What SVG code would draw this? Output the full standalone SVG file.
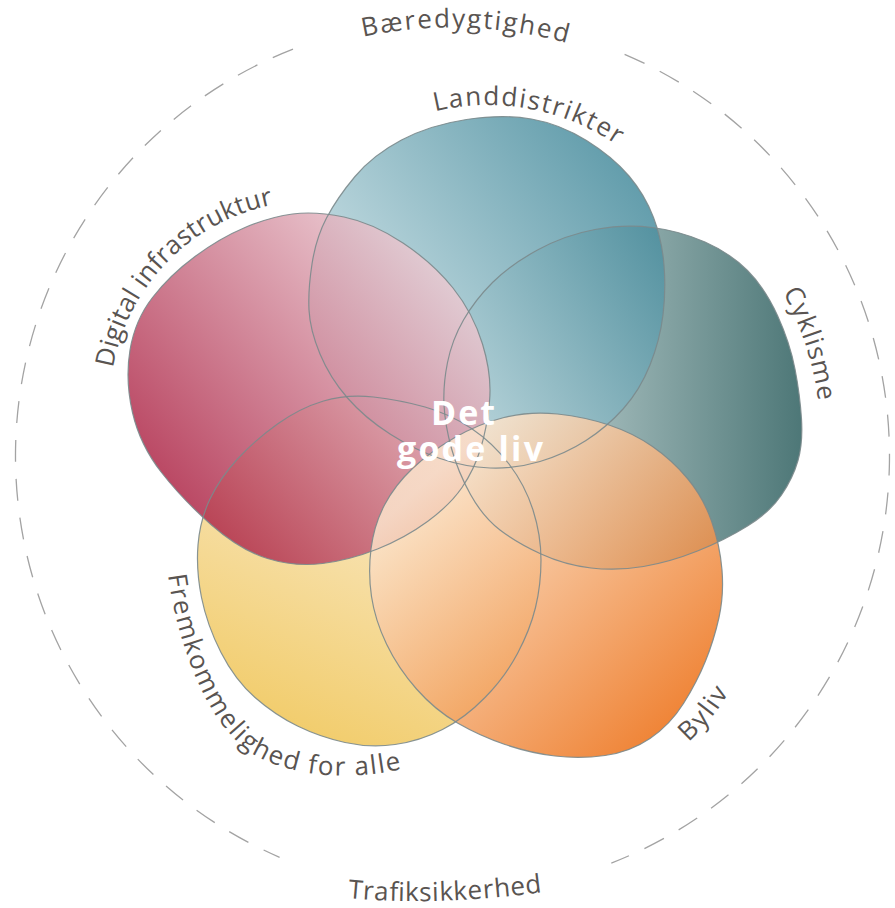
<svg xmlns="http://www.w3.org/2000/svg" width="895" height="908" viewBox="0 0 895 908">
<defs>
<style>
.lbl{font-family:"Open Sans","Liberation Sans",sans-serif;font-size:26px;fill:#595451}
.ctr{font-family:"Open Sans","Liberation Sans",sans-serif;font-size:34px;font-weight:700;fill:#ffffff;text-anchor:middle}
.blob{fill-opacity:0.85}
.outline{fill:none;stroke:#7b898c;stroke-width:1.2;stroke-opacity:0.9}
.ring{fill:none;stroke:#a3a3a3;stroke-width:1.3;stroke-dasharray:22 17}
</style>
<linearGradient id="g-crimson" gradientUnits="userSpaceOnUse" x1="460" y1="255" x2="150" y2="520"><stop offset="0" stop-color="#efd6dc"/><stop offset="1" stop-color="#a8173a"/></linearGradient>
<linearGradient id="g-blue" gradientUnits="userSpaceOnUse" x1="340" y1="420" x2="660" y2="170"><stop offset="0" stop-color="#d6e8ec"/><stop offset="1" stop-color="#3e8698"/></linearGradient>
<linearGradient id="g-cyan" gradientUnits="userSpaceOnUse" x1="460" y1="400" x2="800" y2="400"><stop offset="0" stop-color="#cfdfdf"/><stop offset="1" stop-color="#2f6060"/></linearGradient>
<linearGradient id="g-orange" gradientUnits="userSpaceOnUse" x1="460" y1="450" x2="720" y2="730"><stop offset="0" stop-color="#fbe4cc"/><stop offset="1" stop-color="#eb6200"/></linearGradient>
<linearGradient id="g-yellow" gradientUnits="userSpaceOnUse" x1="440" y1="430" x2="300" y2="740"><stop offset="0" stop-color="#faebcf"/><stop offset="1" stop-color="#efc350"/></linearGradient>
<path id="s-crimson" d="M 292.5 214 Q 315 211 344 217 Q 373 223 403 243 Q 433 263 453 288 Q 473 313 482.5 344 Q 492 375 489.5 401.5 Q 487 428 480.5 449 Q 474 470 462 487.5 Q 450 505 427.5 521.5 Q 405 538 377.5 549 Q 350 560 322.5 563.5 Q 295 567 267.5 558.5 Q 240 550 211.5 525 Q 183 500 161.5 472.5 Q 140 445 132.5 412.5 Q 125 380 130 350 Q 135 320 152.5 297.5 Q 170 275 195 256.5 Q 220 238 245 227.5 Q 270 217 292.5 214 Z"/>
<path id="s-blue" d="M 466.5 119.5 Q 503 114 531.5 119 Q 560 124 586.5 140.5 Q 613 157 629 176 Q 645 195 653.5 217.5 Q 662 240 664 265 Q 666 290 663 315 Q 660 340 650 365 Q 640 390 623.5 408.5 Q 607 427 586 440.5 Q 565 454 540 461.5 Q 515 469 490 468 Q 465 467 440 458.5 Q 415 450 390 434 Q 365 418 347.5 398 Q 330 378 320 354 Q 310 330 309 310 Q 308 290 312 264 Q 316 238 326.5 218 Q 337 198 355 176.5 Q 373 155 401.5 140 Q 430 125 466.5 119.5 Z"/>
<path id="s-cyan" d="M 595 229.5 Q 625 224 652.5 227.5 Q 680 231 705 242 Q 730 253 747.5 270.5 Q 765 288 777.5 315.5 Q 790 343 795 369 Q 800 395 801.5 419 Q 803 443 798 460.5 Q 793 478 781.5 495 Q 770 512 747.5 526 Q 725 540 697.5 551 Q 670 562 643.5 566.5 Q 617 571 591 568 Q 565 565 541 554 Q 517 543 500 530 Q 483 517 470.5 494.5 Q 458 472 451.5 448.5 Q 445 425 444 405 Q 443 385 447.5 362.5 Q 452 340 463.5 320 Q 475 300 492.5 282.5 Q 510 265 537.5 250 Q 565 235 595 229.5 Z"/>
<path id="s-orange" d="M 504 417.5 Q 530 411 557.5 414 Q 585 417 609 425 Q 633 433 652.5 446.5 Q 672 460 687.5 478.5 Q 703 497 711.5 521 Q 720 545 722 570 Q 724 595 719 617.5 Q 714 640 705.5 661 Q 697 682 683.5 703.5 Q 670 725 650 738.5 Q 630 752 605 755.5 Q 580 759 555 756 Q 530 753 505 744.5 Q 480 736 457.5 723 Q 435 710 416.5 689 Q 398 668 386.5 644 Q 375 620 371.5 596.5 Q 368 573 371 549 Q 374 525 384.5 505 Q 395 485 412.5 468.5 Q 430 452 454 438 Q 478 424 504 417.5 Z"/>
<path id="s-yellow" d="M 323.5 401 Q 347 394 373.5 397 Q 400 400 425 407 Q 450 414 471.5 428.5 Q 493 443 509 464 Q 525 485 533 510 Q 541 535 541 560 Q 541 585 535.5 607.5 Q 530 630 517.5 653.5 Q 505 677 485 697.5 Q 465 718 442.5 729.5 Q 420 741 395 744.5 Q 370 748 345 742.5 Q 320 737 297.5 726 Q 275 715 255 697.5 Q 235 680 221 652.5 Q 207 625 201.5 597.5 Q 196 570 198 545 Q 200 520 210 499 Q 220 478 237.5 459 Q 255 440 277.5 424 Q 300 408 323.5 401 Z"/>
<path id="tp-baer" d="M 363 36.95 A 428.5 428.5 0 0 1 580 46.9"/>
<path id="tp-traf" d="M 348 898 Q 440 907 560 890"/>
<path id="tp-land" d="M 435 111.3 A 227 227 0 0 1 631.2 155.8"/>
<path id="tp-digi" d="M 113 368 A 202 202 0 0 1 294.4 201.8"/>
<path id="tp-cykl" d="M 783 292 A 330 330 0 0 1 820.8 423.8"/>
<path id="tp-byliv" d="M 688.4 742.1 A 212 212 0 0 0 738.1 674.6"/>
<path id="tp-frem" d="M 168 575 C 178 650 212 735 260 758 S 370 780 420 764"/>
</defs>

<g id="ring">
<path class="ring" d="M 293 49.1 A 437 437 0 0 0 279.6 857.3"/>
<path class="ring" d="M 624.6 54.3 A 437 437 0 0 1 611.3 863.1"/>
<text class="lbl"><textPath href="#tp-baer" textLength="206" lengthAdjust="spacing">Bæredygtighed</textPath></text>
<text class="lbl"><textPath href="#tp-traf" textLength="195" lengthAdjust="spacing">Trafiksikkerhed</textPath></text>
</g>

<g id="node-fremkommelighed">
<use href="#s-yellow" class="blob" fill="url(#g-yellow)"/>
<text class="lbl"><textPath href="#tp-frem" textLength="356" lengthAdjust="spacing">Fremkommelighed for alle</textPath></text>
</g>
<g id="node-cyklisme">
<use href="#s-cyan" class="blob" fill="url(#g-cyan)"/>
<text class="lbl"><textPath href="#tp-cykl" textLength="115" lengthAdjust="spacing">Cyklisme</textPath></text>
</g>
<g id="node-landdistrikter">
<use href="#s-blue" class="blob" fill="url(#g-blue)"/>
<text class="lbl"><textPath href="#tp-land" textLength="190" lengthAdjust="spacing">Landdistrikter</textPath></text>
</g>
<g id="node-digital">
<use href="#s-crimson" class="blob" fill="url(#g-crimson)"/>
<text class="lbl"><textPath href="#tp-digi" textLength="243" lengthAdjust="spacing">Digital infrastruktur</textPath></text>
</g>
<g id="node-byliv">
<use href="#s-orange" class="blob" fill="url(#g-orange)"/>
<text class="lbl"><textPath href="#tp-byliv" textLength="64" lengthAdjust="spacing">Byliv</textPath></text>
</g>

<g id="outlines">
<use href="#s-yellow" class="outline"/>
<use href="#s-cyan" class="outline"/>
<use href="#s-blue" class="outline"/>
<use href="#s-crimson" class="outline"/>
<use href="#s-orange" class="outline"/>
</g>

<g id="center">
<text class="ctr" x="463" y="425" textLength="64" lengthAdjust="spacing">Det</text>
<text class="ctr" x="470" y="461" textLength="146" lengthAdjust="spacing">gode liv</text>
</g>
</svg>
